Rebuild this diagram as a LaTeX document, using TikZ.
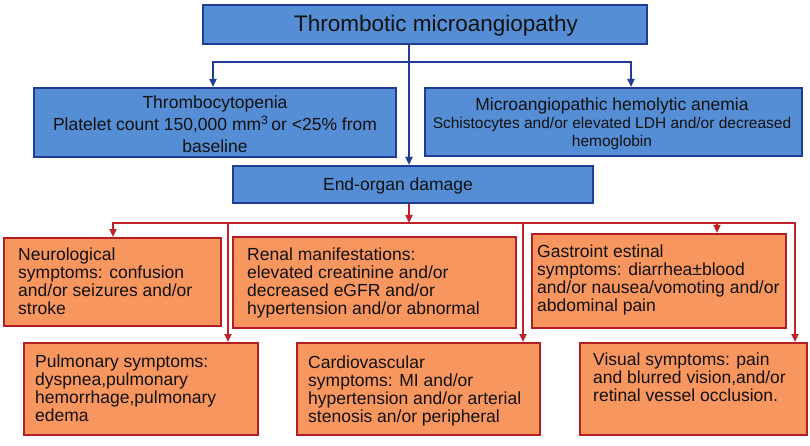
\documentclass[tikz,border=0pt]{standalone}
\usepackage{fontspec}
\setmainfont{Liberation Sans}
\usetikzlibrary{arrows.meta}
\definecolor{bfill}{HTML}{558ED5}
\definecolor{bdraw}{HTML}{1F3C96}
\definecolor{ofill}{HTML}{F8965F}
\definecolor{odraw}{HTML}{B41E23}
\definecolor{rcol}{HTML}{BE2228}
\definecolor{txt}{HTML}{111111}
\begin{document}
\begin{tikzpicture}[x=1pt,y=-1pt,
  bbox/.style={draw=bdraw, fill=bfill, line width=2pt, inner sep=0pt},
  obox/.style={draw=odraw, fill=ofill, line width=2pt, inner sep=0pt},
  btxt/.style={text=txt, font=\fontsize{17.5}{22}\selectfont, align=center, inner sep=0pt, anchor=north},
  otxt/.style={text=txt, font=\fontsize{17.5}{18}\selectfont, align=left, inner sep=0pt, anchor=north west},
  bline/.style={draw=bdraw, line width=2pt},
  rline/.style={draw=rcol, line width=2.6pt},
  tip/.style={-{Triangle[length=8pt,width=7pt]}},
  tips/.style={{Triangle[length=8pt,width=7pt]}-{Triangle[length=8pt,width=7pt]}}]
\useasboundingbox[fill=white] (0,0) rectangle (810,446);

% blue boxes
\node[bbox, minimum width=444pt, minimum height=39pt] (top) at (425,24.5) {};
\node[bbox, minimum width=362pt, minimum height=69pt] (thromb) at (215,122.5) {};
\node[bbox, minimum width=377pt, minimum height=68pt] (maha) at (613.5,122) {};
\node[bbox, minimum width=360pt, minimum height=37pt] (organ) at (413,184.5) {};

% orange boxes
\node[obox, minimum width=217pt, minimum height=88pt] (neuro) at (112.5,282) {};
\node[obox, minimum width=283pt, minimum height=91pt] (renal) at (374.5,282.5) {};
\node[obox, minimum width=254pt, minimum height=94pt] (gastro) at (659,281) {};
\node[obox, minimum width=234pt, minimum height=92pt] (pulm) at (141,389) {};
\node[obox, minimum width=243pt, minimum height=92pt] (cardio) at (418.5,389) {};
\node[obox, minimum width=227pt, minimum height=92pt] (visual) at (693.5,389) {};

% texts
\node[btxt, font=\fontsize{22.5}{26}\selectfont] (ttop) at (436,15) {Thrombotic microangiopathy};
\node[btxt] (tthromb) at (215,95.5) {Thrombocytopenia\\Platelet count 150,000 mm\textsuperscript{3}\,or <25\% from\\baseline};
\node[btxt, font=\fontsize{15.5}{18}\selectfont] (tmaha) at (612,98) {{\fontsize{17.5}{18}\selectfont Microangiopathic hemolytic anemia}\\Schistocytes and/or elevated LDH and/or decreased\\hemoglobin};
\node[btxt] (torgan) at (398,177.5) {End-organ damage};

\node[otxt] (tneuro) at (18,248) {Neurological\\symptoms: confusion\\and/or seizures and/or\\stroke};
\node[otxt] (trenal) at (247,248) {Renal manifestations:\\elevated creatinine and/or\\decreased eGFR and/or\\hypertension and/or abnormal};
\node[otxt] (tgastro) at (537,245) {Gastroint estinal\\symptoms: diarrhea\textpm blood\\and/or nausea/vomoting and/or\\abdominal pain};
\node[otxt] (tpulm) at (35,355) {Pulmonary symptoms:\\dyspnea,pulmonary\\hemorrhage,pulmonary\\edema};
\node[otxt] (tcardio) at (308,356) {Cardiovascular\\symptoms: MI and/or\\hypertension and/or arterial\\stenosis an/or peripheral};
\node[otxt] (tvisual) at (593,353) {Visual symptoms: pain\\and blurred vision,and/or\\retinal vessel occlusion.};

% blue connectors
\coordinate (v) at (409,62);
\coordinate (la) at (213,62);
\coordinate (ra) at (631,62);
\draw[bline, tip] (top.south -| v) -- (organ.north -| v);
\draw[bline, tips] (thromb.north -| la) -- (la) -- (ra) -- (maha.north -| ra);

% red connectors
\coordinate (h0) at (113,223);
\coordinate (h1) at (228,223);
\coordinate (h2) at (409,223);
\coordinate (h3) at (523,223);
\coordinate (h4) at (717,223);
\coordinate (h5) at (795,223);
\draw[rline, tip] (organ.south -| h2) -- (h2);
\draw[rline, tips] (neuro.north -| h0) -- (h0) -- (h5) -- (visual.north -| h5);
\draw[rline, tip] (h1) -- (pulm.north -| h1);
\draw[rline, tip] (h3) -- (cardio.north -| h3);
\draw[rline, tip] (h4) -- (gastro.north -| h4);
\end{tikzpicture}
\end{document}
